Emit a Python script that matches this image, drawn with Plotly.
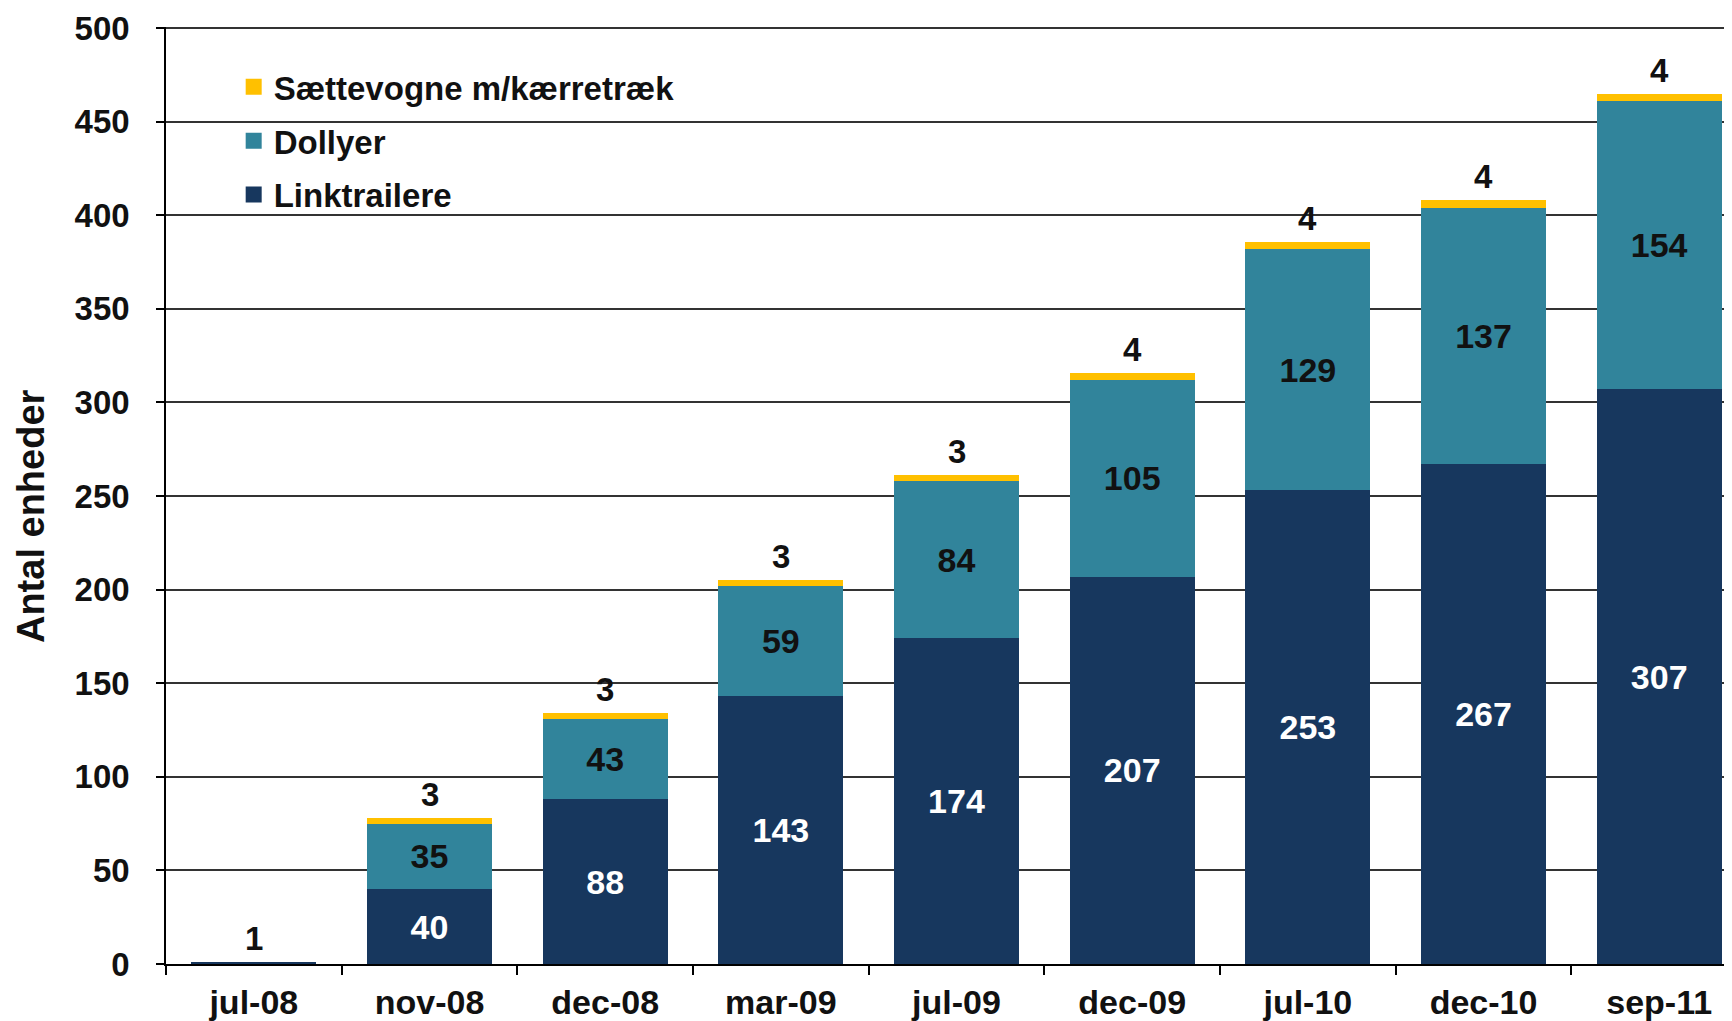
import plotly.graph_objects as go

categories = ["jul-08", "nov-08", "dec-08", "mar-09", "jul-09", "dec-09", "jul-10", "dec-10", "sep-11"]
linktrailere = [1, 40, 88, 143, 174, 207, 253, 267, 307]
dollyer = [0, 35, 43, 59, 84, 105, 129, 137, 154]
saettevogne = [0, 3, 3, 3, 3, 4, 4, 4, 4]
y_ticks = [0, 50, 100, 150, 200, 250, 300, 350, 400, 450, 500]

C_LINK = "#17375E"
C_DOLLY = "#31849B"
C_SAET = "#FFC000"
FONT = "Liberation Sans, Arial, sans-serif"
TXT = "#111111"

fig = go.Figure()
fig.add_trace(go.Bar(
    name="Linktrailere", x=categories, y=linktrailere, marker_color=C_LINK,
    marker_line_width=0,
    text=[str(v) if v > 1 else "" for v in linktrailere], textposition="inside",
    insidetextanchor="middle", textangle=0,
    textfont=dict(family=FONT, size=34, color="white", weight="bold"),
    showlegend=False,
))
fig.add_trace(go.Bar(
    name="Dollyer", x=categories, y=dollyer, marker_color=C_DOLLY,
    marker_line_width=0,
    text=[str(v) if v > 0 else "" for v in dollyer], textposition="inside",
    insidetextanchor="middle", textangle=0,
    textfont=dict(family=FONT, size=34, color=TXT, weight="bold"),
    showlegend=False,
))
fig.add_trace(go.Bar(
    name="Sættevogne m/kærretræk", x=categories, y=saettevogne, marker_color=C_SAET,
    marker_line_width=0,
    showlegend=False,
))

# legend entries (square swatches)
for rank, (name, col) in enumerate([("Sættevogne m/kærretræk", C_SAET),
                                    ("Dollyer", C_DOLLY),
                                    ("Linktrailere", C_LINK)]):
    fig.add_trace(go.Scatter(
        x=[None], y=[None], mode="markers", name=name,
        marker=dict(symbol="square", size=16, color=col),
        legendgroup=name, legendrank=rank + 1, showlegend=True,
    ))

totals = [a + b + c for a, b, c in zip(linktrailere, dollyer, saettevogne)]
for cat, s, l, tot in zip(categories, saettevogne, linktrailere, totals):
    label = s if s > 0 else l
    fig.add_annotation(x=cat, y=tot, text=str(label), showarrow=False,
                       yanchor="bottom", yshift=3,
                       font=dict(family=FONT, size=33, color=TXT, weight="bold"))

fig.add_annotation(xref="paper", yref="paper", x=-0.0858, y=0.478, text="Antal enheder",
                   textangle=-90, showarrow=False, xanchor="center", yanchor="middle",
                   font=dict(family=FONT, size=38, color=TXT, weight="bold"))

fig.update_layout(
    width=1732, height=1021,
    margin=dict(l=158, r=0, t=19, b=65),
    barmode="stack", bargap=0.29,
    plot_bgcolor="white", paper_bgcolor="white",
    showlegend=True,
    legend=dict(x=0.043, y=0.966, xanchor="left", yanchor="top",
                traceorder="grouped", tracegroupgap=8,
                font=dict(family=FONT, size=33, color=TXT, weight="bold"),
                bgcolor="rgba(0,0,0,0)"),
    font=dict(family=FONT, color=TXT),
)
fig.update_xaxes(
    type="category", range=[-0.5, 8.46], tickson="boundaries",
    ticks="outside", ticklen=9, tickcolor="black", tickwidth=1.5,
    showline=True, linecolor="black", linewidth=1.5, showgrid=False,
    tickfont=dict(family=FONT, size=34, color=TXT, weight="bold"),
    ticklabelstandoff=7,
)
fig.update_yaxes(
    range=[0, 500.6], tickvals=y_ticks, ticks="outside", ticklen=8,
    tickcolor="black", tickwidth=1.5,
    showline=True, linecolor="black", linewidth=1.5,
    showgrid=True, gridcolor="#333333", gridwidth=1.5, zeroline=False,
    tickfont=dict(family=FONT, size=33, color=TXT, weight="bold"),
    ticklabelstandoff=20,
)

fig.write_html("out.html")
